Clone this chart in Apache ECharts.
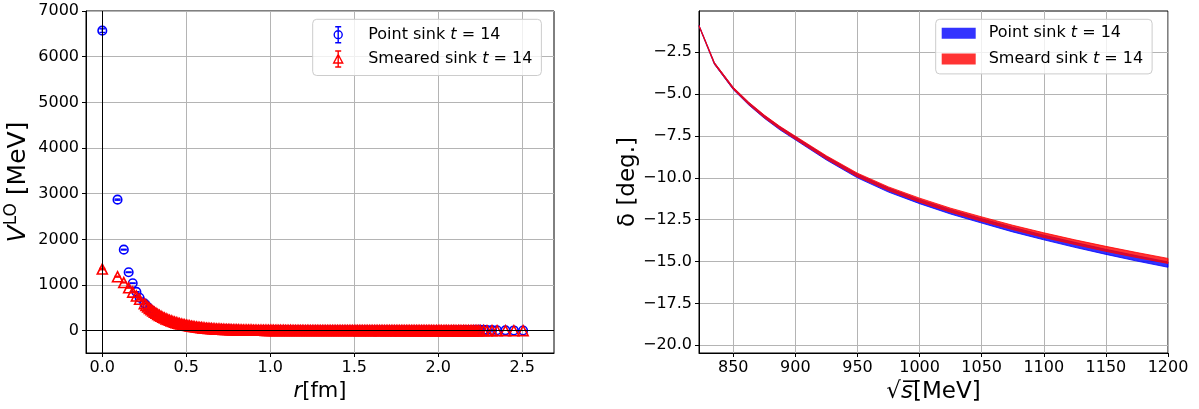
<!DOCTYPE html>
<html><head><meta charset="utf-8">
<script src="https://cdn.jsdelivr.net/npm/echarts@6/dist/echarts.min.js"></script>
<style>html,body{margin:0;padding:0;background:#fff}#c{width:1199px;height:409px}</style>
</head><body><div id="c"></div>
<script>
// ---------- Left panel: V^LO(r) ----------
const rNear = [0, 0.0907, 0.128, 0.157, 0.181, 0.203, 0.222];
const pointNear = [6570, 2870, 1775, 1280, 1040, 850, 722];
const pointNearErr = [40, 12, 8, 6, 5, 4, 4];
const smearNear = [1350, 1183, 1055, 940, 845, 760, 688];
const smearNearErr = [15, 10, 8, 6, 5, 4, 4];

const rDense = [
 0.25,0.26,0.27,0.28,0.29,0.30,0.31,0.32,0.33,0.34,
 0.35,0.36,0.37,0.38,0.39,0.40,0.41,0.42,0.43,0.44,
 0.45,0.46,0.47,0.48,0.49,0.50,0.51,0.52,0.53,0.54,
 0.55,0.56,0.57,0.58,0.59,0.60,0.61,0.62,0.63,0.64,
 0.65,0.66,0.67,0.68,0.69,0.70,0.71,0.72,0.73,0.74,
 0.75,0.76,0.77,0.78,0.79,0.80,0.81,0.82,0.83,0.84,
 0.85,0.86,0.87,0.88,0.89,0.90,0.91,0.92,0.93,0.94,
 0.95,0.96,0.97,0.98,0.99,1.00,1.01,1.02,1.03,1.04,
 1.05,1.06,1.07,1.08,1.09,1.10,1.11,1.12,1.13,1.14,
 1.15,1.16,1.17,1.18,1.19,1.20,1.21,1.22,1.23,1.24,
 1.25,1.26,1.27,1.28,1.29,1.30,1.31,1.32,1.33,1.34,
 1.35,1.36,1.37,1.38,1.39,1.40,1.41,1.42,1.43,1.44,
 1.45,1.46,1.47,1.48,1.49,1.50,1.51,1.52,1.53,1.54,
 1.55,1.56,1.57,1.58,1.59,1.60,1.61,1.62,1.63,1.64,
 1.65,1.66,1.67,1.68,1.69,1.70,1.71,1.72,1.73,1.74,
 1.75,1.76,1.77,1.78,1.79,1.80,1.81,1.82,1.83,1.84,
 1.85,1.86,1.87,1.88,1.89,1.90,1.91,1.92,1.93,1.94,
 1.95,1.96,1.97,1.98,1.99,2.00,2.01,2.02,2.03,2.04,
 2.05,2.06,2.07,2.08,2.09,2.10,2.11,2.12,2.13,2.14,
 2.15,2.16,2.17,2.18,2.19,2.20,2.21,2.22,2.23,2.24,
 2.25];
const pointDense = [
 600,560,515,478,445,415,388,362,338,316,
 295,276,258,242,227,212,199,186,174,163,
 153,143,134,126,118,111,104,98,92,86,
 81,76,72,68,64,60,56,53,50,47,
 44,42,39,37,35,33,31,29,28,26,
 25,23,22,21,20,19,18,17,16,15,
 15,14,13,13,12,12,11,11,10,10,
 10,9,9,9,8,8,8,7,8,7,
 7,8,6,7,7,6,7,6,6,7,
 6,6,7,5,6,6,5,6,5,6,
 6,5,6,5,5,6,5,5,4,6,
 5,5,4,5,5,4,5,4,5,4,
 4,5,4,4,5,4,4,5,4,4,
 4,4,5,4,4,4,5,4,4,4,
 4,5,4,4,4,5,4,4,5,4,
 5,4,4,5,4,5,4,5,4,5,
 5,4,5,5,4,5,5,4,5,5,
 5,6,5,5,6,5,6,5,6,6,
 6,5,6,7,6,6,7,6,7,7,
 10,12,11,13,14,15,16,18,17,19,
 20];
const smearDense = [
 590,555,520,490,460,432,406,381,358,336,
 315,295,277,260,244,229,215,202,189,177,
 166,156,146,137,128,120,113,106,99,93,
 87,82,77,72,67,63,59,55,52,49,
 46,43,40,38,36,34,32,30,28,27,
 25,24,22,21,20,19,18,17,16,15,
 14,14,13,12,12,11,11,10,10,9,
 9,9,8,8,8,7,7,8,6,7,
 6,7,5,7,6,6,5,7,5,6,
 6,5,6,4,6,5,5,6,4,5,
 5,4,6,4,5,5,4,5,3,5,
 4,5,4,3,5,4,4,3,5,4,
 3,4,4,3,4,3,4,4,2,4,
 3,4,3,3,4,2,3,4,3,3,
 2,3,3,4,2,3,3,2,3,3,
 2,3,2,3,3,2,3,2,2,3,
 3,2,2,3,2,2,3,2,2,3,
 2,2,3,1,2,3,2,2,1,3,
 2,2,1,2,3,2,1,2,2,1,
 2,2,1,2,1,2,2,1,2,1,
 2];
const rTail = [2.27, 2.29, 2.32, 2.35, 2.40, 2.45, 2.505];
const pointTail = [18, 15, 12, 10, 8, 6, 5];
const smearTail = [2, 1, 2, 1, 1, 0, 1];

const leftXTicks = [0, 0.5, 1.0, 1.5, 2.0, 2.5];
const leftYTicks = [0, 1000, 2000, 3000, 4000, 5000, 6000, 7000];

// ---------- Right panel: phase shift ----------
const sqrtS = [822.5, 834.8, 850, 862.5, 875, 887.5, 900, 925, 950, 975, 1000, 1025, 1050, 1075, 1100, 1125, 1150, 1175, 1200];
const pointLow  = [-0.96, -3.22, -4.73, -5.65, -6.44, -7.13, -7.73, -8.93, -10.00, -10.85, -11.54, -12.16, -12.70, -13.23, -13.70, -14.15, -14.57, -14.97, -15.34];
const pointHigh = [-0.90, -3.12, -4.61, -5.51, -6.28, -6.95, -7.55, -8.73, -9.78, -10.61, -11.30, -11.90, -12.44, -12.95, -13.42, -13.85, -14.27, -14.65, -15.02];
const smearLow  = [-0.96, -3.21, -4.71, -5.62, -6.41, -7.08, -7.69, -8.88, -9.94, -10.76, -11.45, -12.05, -12.59, -13.09, -13.56, -13.98, -14.39, -14.76, -15.11];
const smearHigh = [-0.90, -3.11, -4.59, -5.48, -6.25, -6.92, -7.51, -8.68, -9.72, -10.54, -11.21, -11.81, -12.33, -12.83, -13.28, -13.70, -14.09, -14.46, -14.81];

const rightXTicks = [850, 900, 950, 1000, 1050, 1100, 1150, 1200];
const rightYTicks = [-20, -17.5, -15, -12.5, -10, -7.5, -5, -2.5];

// ---------- chart ----------
const FONT = 'DejaVu Sans';
const GRIDC = '#b4b4b4';
const chart = echarts.init(document.getElementById('c'), null, {renderer: 'canvas'});
const pairs = (xs, ys) => xs.map((x, i) => [x, ys[i]]);
const mn = s => String(s).replace('-', '\u2212');

function errSeries(rs, vs, es, color) {
  return {
    type: 'custom', xAxisIndex: 0, yAxisIndex: 0, silent: true,
    data: rs.map((r, i) => [r, vs[i] - es[i], vs[i] + es[i]]),
    encode: {x: 0, y: [1, 2]},
    renderItem: (params, api) => {
      const x = api.value(0);
      const p1 = api.coord([x, api.value(1)]);
      const p2 = api.coord([x, api.value(2)]);
      const cw = 3;
      const st = {stroke: color, lineWidth: 1.4};
      return {type: 'group', children: [
        {type: 'line', shape: {x1: p1[0], y1: p1[1], x2: p2[0], y2: p2[1]}, style: st},
        {type: 'line', shape: {x1: p1[0] - cw, y1: p1[1], x2: p1[0] + cw, y2: p1[1]}, style: st},
        {type: 'line', shape: {x1: p2[0] - cw, y1: p2[1], x2: p2[0] + cw, y2: p2[1]}, style: st}
      ]};
    }
  };
}
function bandSeries(name, color, lo, hi) {
  return {
    type: 'custom', name: name, xAxisIndex: 1, yAxisIndex: 1, silent: true,
    itemStyle: {color: color},
    data: [[sqrtS[0], hi[0]]],
    encode: {x: 0, y: 1},
    renderItem: (params, api) => {
      const pts = [];
      for (let i = 0; i < sqrtS.length; i++) pts.push(api.coord([sqrtS[i], hi[i]]));
      for (let i = sqrtS.length - 1; i >= 0; i--) pts.push(api.coord([sqrtS[i], lo[i]]));
      return {type: 'polygon', shape: {points: pts}, style: {fill: color, stroke: color, lineWidth: 1}};
    }
  };
}

const tickLabel = {fontFamily: FONT, fontSize: 16, color: '#000'};
const commonAxis = {
  axisLine: {show: true, onZero: false, lineStyle: {color: '#000', width: 1}},
  axisTick: {show: true, inside: false, length: 4, lineStyle: {color: '#000', width: 1}},
  splitLine: {show: true, lineStyle: {color: GRIDC, width: 1}}
};
const legendText = {
  fontFamily: FONT, fontSize: 16, color: '#000', padding: [0, 0, 0, 8],
  rich: {i: {fontFamily: FONT, fontSize: 16, fontStyle: 'italic', color: '#000'}}
};
const legendFmt = n => n.trim().replace(' t = ', ' {i|t} = ');

const option = {
  animation: false,
  backgroundColor: '#fff',
  grid: [
    {left: 86, top: 11, width: 468, height: 342, show: true, borderColor: '#000', borderWidth: 1, backgroundColor: 'transparent'},
    {left: 699, top: 11, width: 469, height: 342, show: true, borderColor: '#000', borderWidth: 1, backgroundColor: 'transparent'}
  ],
  xAxis: [
    Object.assign({}, commonAxis, {
      type: 'value', gridIndex: 0, min: -0.097, max: 2.689,
      axisTick: Object.assign({}, commonAxis.axisTick, {customValues: leftXTicks}),
      axisLabel: Object.assign({}, tickLabel, {customValues: leftXTicks, margin: 7, formatter: v => v.toFixed(1)}),
      name: '{i|r}[fm]', nameLocation: 'middle', nameGap: 22,
      nameTextStyle: {fontFamily: FONT, fontSize: 21, color: '#000', rich: {i: {fontFamily: FONT, fontSize: 21, fontStyle: 'italic', color: '#000'}}}
    }),
    Object.assign({}, commonAxis, {
      type: 'value', gridIndex: 1, min: 822.4, max: 1200,
      axisTick: Object.assign({}, commonAxis.axisTick, {customValues: rightXTicks}),
      axisLabel: Object.assign({}, tickLabel, {customValues: rightXTicks, margin: 7, formatter: v => String(v)}),
      name: '{r|\u221A}{i|s\u0305}[MeV]', nameLocation: 'middle', nameGap: 23,
      nameTextStyle: {fontFamily: FONT, fontSize: 23, color: '#000',
        rich: {r: {fontFamily: FONT, fontSize: 23, color: '#000'}, i: {fontFamily: FONT, fontSize: 23, fontStyle: 'italic', color: '#000'}}}
    })
  ],
  yAxis: [
    Object.assign({}, commonAxis, {
      type: 'value', gridIndex: 0, min: -488, max: 7000,
      axisTick: Object.assign({}, commonAxis.axisTick, {customValues: leftYTicks}),
      axisLabel: Object.assign({}, tickLabel, {customValues: leftYTicks, margin: 7, formatter: v => String(v)}),
      name: '{v|V}{s|LO} [MeV]', nameLocation: 'middle', nameGap: 46, nameRotate: 90,
      nameTextStyle: {fontFamily: FONT, fontSize: 25, color: '#000', lineHeight: 31,
        rich: {v: {fontFamily: FONT, fontSize: 25, fontStyle: 'italic', color: '#000', lineHeight: 31},
               s: {fontFamily: FONT, fontSize: 17, color: '#000', lineHeight: 16, verticalAlign: 'top'}}}
    }),
    Object.assign({}, commonAxis, {
      type: 'value', gridIndex: 1, min: -20.46, max: -0.033,
      axisTick: Object.assign({}, commonAxis.axisTick, {customValues: rightYTicks}),
      axisLabel: Object.assign({}, tickLabel, {customValues: rightYTicks, margin: 7, formatter: v => mn(v.toFixed(1))}),
      name: '\u03B4 [deg.]', nameLocation: 'middle', nameGap: 55, nameRotate: 90,
      nameTextStyle: {fontFamily: FONT, fontSize: 23, color: '#000'}
    })
  ],
  legend: [
    {
      left: 312.7, top: 19.3, orient: 'vertical', selectedMode: false,
      itemWidth: 34, itemHeight: 16, itemGap: 3.2, padding: [5, 9, 6, 6],
      backgroundColor: 'rgba(255,255,255,0.8)', borderColor: '#cccccc', borderWidth: 1, borderRadius: 4,
      textStyle: legendText, formatter: legendFmt,
      data: [
        {name: 'Point sink t = 14', icon: 'path://M-12,8L-12,8M22,8L22,8M5,0L5,16M2,0L8,0M2,16L8,16M9,8A4,4,0,1,1,1,8A4,4,0,1,1,9,8Z',
         itemStyle: {color: 'none', borderColor: '#0000ff', borderWidth: 1.4, opacity: 1}},
        {name: 'Smeared sink t = 14', icon: 'path://M-12,8L-12,8M22,8L22,8M5,0L5,16M2,0L8,0M2,16L8,16M5,3.5L9.5,12L0.5,12Z',
         itemStyle: {color: 'none', borderColor: '#ff0000', borderWidth: 1.4, opacity: 1}}
      ]
    },
    {
      left: 935.7, top: 19.3, orient: 'vertical', selectedMode: false,
      itemWidth: 34, itemHeight: 11, itemGap: 9.6, padding: [6, 9, 7, 6],
      backgroundColor: 'rgba(255,255,255,0.8)', borderColor: '#cccccc', borderWidth: 1, borderRadius: 4,
      textStyle: legendText, formatter: legendFmt,
      data: [
        {name: 'Point sink t = 14 ', icon: 'rect', itemStyle: {color: 'rgba(0,0,255,0.8)', borderWidth: 0}},
        {name: 'Smeard sink t = 14', icon: 'rect', itemStyle: {color: 'rgba(255,0,0,0.8)', borderWidth: 0}}
      ]
    }
  ],
  series: [
    {
      type: 'line', xAxisIndex: 0, yAxisIndex: 0, data: [[0, 0]], symbol: 'none', silent: true,
      lineStyle: {width: 0},
      markLine: {silent: true, symbol: ['none', 'none'], label: {show: false},
        lineStyle: {color: '#000', width: 1, type: 'solid'},
        data: [{xAxis: 0}, {yAxis: 0}]}
    },
    errSeries(rNear, pointNear, pointNearErr, '#0000ff'),
    {
      type: 'scatter', name: 'Point sink t = 14', xAxisIndex: 0, yAxisIndex: 0, silent: true,
      symbol: 'circle', symbolSize: 8.5,
      itemStyle: {color: 'rgba(0,0,0,0)', borderColor: '#0000ff', borderWidth: 1.6, opacity: 1},
      data: pairs(rNear, pointNear).concat(pairs(rDense, pointDense), pairs(rTail, pointTail))
    },
    errSeries(rNear, smearNear, smearNearErr, '#ff0000'),
    {
      type: 'scatter', name: 'Smeared sink t = 14', xAxisIndex: 0, yAxisIndex: 0, silent: true,
      symbol: 'triangle', symbolSize: 10,
      itemStyle: {color: 'rgba(0,0,0,0)', borderColor: '#ff0000', borderWidth: 1.6, opacity: 1},
      data: pairs(rNear, smearNear).concat(pairs(rDense, smearDense), pairs(rTail, smearTail))
    },
    bandSeries('Point sink t = 14 ', 'rgba(0,0,255,0.8)', pointLow, pointHigh),
    bandSeries('Smeard sink t = 14', 'rgba(255,0,0,0.8)', smearLow, smearHigh)
  ]
};
chart.setOption(option);
</script>
</body></html>
